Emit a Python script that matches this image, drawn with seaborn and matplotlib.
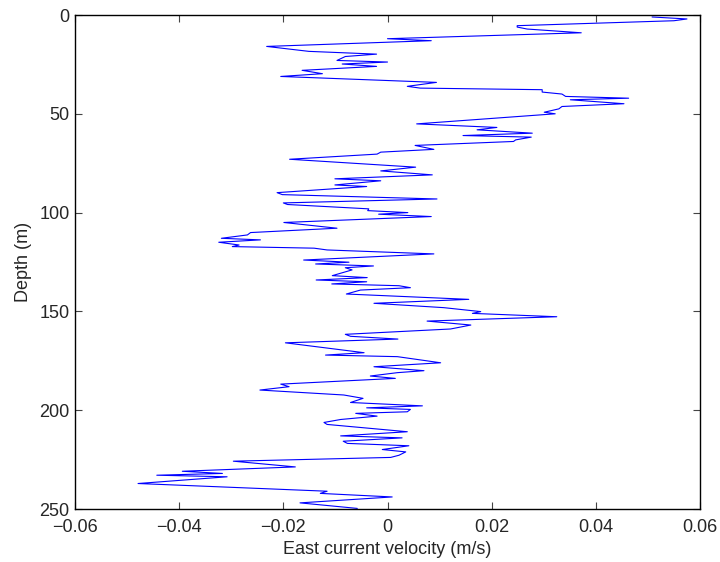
import matplotlib
matplotlib.use("Agg")
import matplotlib.pyplot as plt
import seaborn as sns
import pandas as pd

# East velocity profile: depth (m) and velocity (m/s) at each sample
depth = [
    1.0, 2.0, 2.9, 5.4, 6.1, 7.1, 9.0, 12.0, 13.0, 15.9,
    18.4, 19.8, 21.0, 23.0, 23.8, 24.8, 26.0, 28.0, 29.7, 31.1,
    34.1, 36.1, 37.0, 37.8, 39.0, 40.0, 41.2, 42.1, 42.9, 44.9,
    46.3, 47.5, 49.2, 50.0, 55.1, 56.9, 58.1, 59.8, 61.0, 61.8,
    63.2, 64.0, 66.0, 68.0, 69.4, 70.4, 73.0, 77.0, 78.9, 80.9,
    82.9, 83.9, 86.0, 86.8, 89.9, 90.9, 93.1, 95.1, 95.9, 98.1,
    99.0, 100.0, 100.8, 102.0, 105.0, 107.9, 110.1, 111.3, 113.0, 113.8,
    115.0, 116.4, 117.2, 118.0, 118.9, 120.9, 124.0, 125.1, 126.0, 127.0,
    127.9, 129.0, 131.9, 132.9, 134.1, 135.0, 136.1, 137.0, 138.0, 139.2,
    141.2, 143.9, 145.9, 148.1, 150.1, 151.0, 152.7, 154.9, 156.9, 158.9,
    161.6, 162.6, 164.0, 165.9, 170.9, 172.1, 172.9, 176.0, 178.0, 180.0,
    181.0, 182.7, 183.9, 186.8, 188.1, 189.8, 192.3, 194.0, 196.1, 197.8,
    198.8, 199.6, 200.8, 201.6, 203.0, 204.7, 206.2, 207.2, 210.9, 213.0,
    214.0, 215.7, 216.8, 218.0, 219.9, 221.1, 222.8, 223.9, 225.8, 228.7,
    230.9, 232.0, 232.9, 233.7, 237.1, 241.0, 242.1, 243.9, 246.9, 249.7,
]
velocity = [
    0.0508, 0.0575, 0.0550, 0.0249, 0.0249, 0.0268, 0.0372, 0.0000, 0.0084, -0.0232,
    -0.0151, -0.0021, -0.0081, -0.0097, 0.0000, -0.0087, -0.0021, -0.0164, -0.0125, -0.0205,
    0.0094, 0.0038, 0.0063, 0.0297, 0.0297, 0.0335, 0.0342, 0.0463, 0.0351, 0.0454,
    0.0335, 0.0329, 0.0301, 0.0322, 0.0056, 0.0210, 0.0172, 0.0278, 0.0145, 0.0276,
    0.0246, 0.0242, 0.0053, 0.0089, -0.0013, -0.0020, -0.0188, 0.0054, -0.0013, 0.0086,
    -0.0101, -0.0013, -0.0101, -0.0040, -0.0212, -0.0202, 0.0095, -0.0200, -0.0192, -0.0036,
    -0.0038, 0.0039, -0.0017, 0.0084, -0.0199, -0.0097, -0.0263, -0.0269, -0.0319, -0.0244,
    -0.0324, -0.0285, -0.0298, -0.0141, -0.0116, 0.0089, -0.0161, -0.0074, -0.0138, -0.0027,
    -0.0081, -0.0068, -0.0106, -0.0039, -0.0137, -0.0040, -0.0107, 0.0022, 0.0044, -0.0052,
    -0.0079, 0.0156, -0.0026, 0.0108, 0.0179, 0.0163, 0.0325, 0.0076, 0.0160, 0.0121,
    -0.0081, -0.0071, 0.0020, -0.0196, -0.0045, -0.0119, 0.0019, 0.0102, -0.0026, 0.0070,
    0.0019, -0.0033, 0.0015, -0.0205, -0.0189, -0.0245, -0.0084, -0.0047, -0.0071, 0.0067,
    -0.0040, 0.0044, 0.0038, -0.0061, -0.0020, -0.0090, -0.0122, -0.0116, 0.0038, -0.0090,
    0.0028, -0.0085, -0.0077, 0.0041, -0.0010, 0.0035, 0.0022, 0.0006, -0.0296, -0.0177,
    -0.0394, -0.0317, -0.0443, -0.0308, -0.0479, -0.0116, -0.0129, 0.0009, -0.0168, -0.0058,
]

x_ticks = [-0.06, -0.04, -0.02, 0, 0.02, 0.04, 0.06]
x_tick_labels = ["\u22120.06", "\u22120.04", "\u22120.02", "0", "0.02", "0.04", "0.06"]
y_ticks = [0, 50, 100, 150, 200, 250]

sns.set_style("white")
plt.rcParams["font.family"] = ["Liberation Sans", "DejaVu Sans"]

df = pd.DataFrame({"velocity": velocity, "depth": depth})

fig = plt.figure(figsize=(7.2, 5.62), dpi=100)
ax = fig.add_axes([0.1042, 0.0943, 0.868, 0.879])

sns.lineplot(data=df, x="velocity", y="depth", sort=False, estimator=None,
             color="#0000ff", linewidth=0.8, ax=ax)

ax.set_xlim(-0.06, 0.06)
ax.set_ylim(250, 0)
ax.set_xticks(x_ticks)
ax.set_xticklabels(x_tick_labels)
ax.set_yticks(y_ticks)

ax.set_xlabel("East current velocity (m/s)", fontsize=13, labelpad=4)
ax.set_ylabel("Depth (m)", fontsize=13, labelpad=5)

ax.tick_params(axis="both", which="both", direction="in", length=5, width=0.8,
               color="#444444", labelsize=13, top=True, right=True,
               bottom=True, left=True)
ax.tick_params(axis="x", pad=7)
ax.tick_params(axis="y", pad=4)
for side in ax.spines.values():
    side.set_visible(True)
    side.set_color("black")
    side.set_linewidth(1.0)

fig.savefig("out.png", dpi=100)
